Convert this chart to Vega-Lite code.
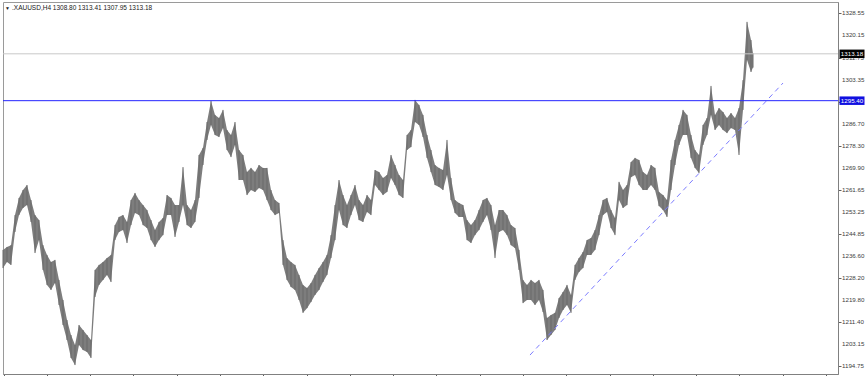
{
  "$schema": "https://vega.github.io/schema/vega-lite/v6.json",
  "width": 835,
  "height": 372,
  "padding": {"left": 2, "top": 2, "right": 0, "bottom": 0},
  "autosize": {"type": "pad"},
  "background": "white",
  "config": {"view": {"stroke": "#9a9a9a", "strokeWidth": 1}, "font": "Liberation Sans"},
  "datasets": {
    "bars": [
      {"bar":0,"high":1238.8,"low":1231.9},{"bar":4,"high":1239.9,"low":1234.2},{"bar":8,"high":1240.6,"low":1233.1},{"bar":12,"high":1252.0,"low":1245.6},
      {"bar":16,"high":1258.5,"low":1252.0},{"bar":20,"high":1261.5,"low":1254.7},{"bar":24,"high":1263.4,"low":1255.8},{"bar":28,"high":1257.7,"low":1249.4},
      {"bar":32,"high":1252.0,"low":1237.6},{"bar":36,"high":1250.1,"low":1242.5},{"bar":40,"high":1240.6,"low":1231.2},{"bar":44,"high":1236.9,"low":1225.5},
      {"bar":48,"high":1234.2,"low":1223.6},{"bar":52,"high":1235.0,"low":1226.2},{"bar":56,"high":1227.4,"low":1217.9},{"bar":60,"high":1219.8,"low":1210.3},
      {"bar":64,"high":1212.2,"low":1204.6},{"bar":68,"high":1206.5,"low":1197.8},{"bar":72,"high":1202.7,"low":1195.1},{"bar":76,"high":1210.3,"low":1202.7},
      {"bar":80,"high":1208.4,"low":1200.8},{"bar":84,"high":1206.5,"low":1200.1},{"bar":88,"high":1204.6,"low":1197.8},{"bar":92,"high":1231.2,"low":1220.9},
      {"bar":96,"high":1233.1,"low":1225.5},{"bar":100,"high":1234.2,"low":1227.4},{"bar":104,"high":1235.7,"low":1229.3},{"bar":108,"high":1236.9,"low":1226.6},
      {"bar":112,"high":1248.2,"low":1242.5},{"bar":116,"high":1251.3,"low":1245.6},{"bar":120,"high":1252.0,"low":1246.3},{"bar":124,"high":1249.4,"low":1241.4},
      {"bar":128,"high":1257.7,"low":1248.2},{"bar":132,"high":1260.4,"low":1252.8},{"bar":136,"high":1257.7,"low":1252.0},{"bar":140,"high":1255.8,"low":1248.2},
      {"bar":144,"high":1253.9,"low":1247.1},{"bar":148,"high":1250.1,"low":1242.5},{"bar":152,"high":1246.3,"low":1239.9},{"bar":156,"high":1249.4,"low":1242.5},
      {"bar":160,"high":1250.9,"low":1244.4},{"bar":164,"high":1259.6,"low":1252.0},{"bar":168,"high":1258.5,"low":1252.0},{"bar":172,"high":1255.8,"low":1243.7},
      {"bar":176,"high":1255.8,"low":1249.4},{"bar":180,"high":1270.2,"low":1255.8},{"bar":184,"high":1255.8,"low":1248.2},{"bar":188,"high":1253.9,"low":1247.1},
      {"bar":192,"high":1257.7,"low":1249.4},{"bar":196,"high":1274.8,"low":1258.5},{"bar":200,"high":1277.5,"low":1271.0},{"bar":204,"high":1287.3,"low":1280.5},
      {"bar":208,"high":1295.3,"low":1286.2},{"bar":212,"high":1290.0,"low":1282.4},{"bar":216,"high":1288.8,"low":1281.6},{"bar":220,"high":1291.9,"low":1285.0},
      {"bar":224,"high":1284.3,"low":1276.7},{"bar":228,"high":1282.4,"low":1274.0},{"bar":232,"high":1287.3,"low":1278.6},{"bar":236,"high":1276.7,"low":1265.3},
      {"bar":240,"high":1274.8,"low":1265.3},{"bar":244,"high":1268.3,"low":1259.6},{"bar":248,"high":1269.9,"low":1261.5},{"bar":252,"high":1268.3,"low":1260.8},
      {"bar":256,"high":1271.0,"low":1262.3},{"bar":260,"high":1269.9,"low":1261.5},{"bar":264,"high":1269.9,"low":1257.7},{"bar":268,"high":1261.5,"low":1253.9},
      {"bar":272,"high":1257.7,"low":1252.0},{"bar":276,"high":1256.6,"low":1252.8},{"bar":280,"high":1242.5,"low":1233.1},{"bar":284,"high":1235.7,"low":1227.4},
      {"bar":288,"high":1234.2,"low":1224.7},{"bar":292,"high":1233.1,"low":1223.6},{"bar":296,"high":1229.3,"low":1219.8},{"bar":300,"high":1225.5,"low":1214.9},
      {"bar":304,"high":1224.3,"low":1216.7},{"bar":308,"high":1226.2,"low":1219.0},{"bar":312,"high":1229.3,"low":1221.7},{"bar":316,"high":1231.9,"low":1223.6},
      {"bar":320,"high":1234.2,"low":1226.6},{"bar":324,"high":1236.9,"low":1229.3},{"bar":328,"high":1244.4,"low":1235.7},{"bar":332,"high":1255.8,"low":1242.5},
      {"bar":336,"high":1265.3,"low":1253.9},{"bar":340,"high":1259.6,"low":1248.2},{"bar":344,"high":1255.8,"low":1247.1},{"bar":348,"high":1259.6,"low":1252.0},
      {"bar":352,"high":1263.4,"low":1255.8},{"bar":356,"high":1257.7,"low":1250.1},{"bar":360,"high":1255.8,"low":1249.4},{"bar":364,"high":1259.6,"low":1253.2},
      {"bar":368,"high":1257.7,"low":1252.0},{"bar":372,"high":1269.1,"low":1263.4},{"bar":376,"high":1268.3,"low":1261.5},{"bar":380,"high":1266.1,"low":1259.6},
      {"bar":384,"high":1267.2,"low":1260.8},{"bar":388,"high":1274.8,"low":1266.1},{"bar":392,"high":1271.0,"low":1263.4},{"bar":396,"high":1267.2,"low":1259.6},
      {"bar":400,"high":1265.3,"low":1258.5},{"bar":404,"high":1282.4,"low":1276.7},{"bar":408,"high":1284.3,"low":1277.8},{"bar":412,"high":1295.7,"low":1287.3},
      {"bar":416,"high":1293.8,"low":1286.2},{"bar":420,"high":1290.0,"low":1281.6},{"bar":424,"high":1282.4,"low":1273.7},{"bar":428,"high":1276.7,"low":1268.3},
      {"bar":432,"high":1271.0,"low":1263.4},{"bar":436,"high":1269.9,"low":1262.7},{"bar":440,"high":1269.1,"low":1261.5},{"bar":444,"high":1280.5,"low":1267.2},
      {"bar":448,"high":1266.1,"low":1257.7},{"bar":452,"high":1257.7,"low":1252.8},{"bar":456,"high":1256.6,"low":1251.3},{"bar":460,"high":1255.8,"low":1251.3},
      {"bar":464,"high":1250.1,"low":1242.5},{"bar":468,"high":1248.2,"low":1241.4},{"bar":472,"high":1250.1,"low":1244.4},{"bar":476,"high":1253.9,"low":1246.3},
      {"bar":480,"high":1257.7,"low":1249.4},{"bar":484,"high":1258.5,"low":1252.0},{"bar":488,"high":1255.8,"low":1246.3},{"bar":492,"high":1248.2,"low":1235.7},
      {"bar":496,"high":1253.9,"low":1245.6},{"bar":500,"high":1253.9,"low":1246.3},{"bar":504,"high":1252.0,"low":1244.4},{"bar":508,"high":1248.2,"low":1240.6},
      {"bar":512,"high":1247.1,"low":1239.5},{"bar":516,"high":1238.8,"low":1231.2},{"bar":520,"high":1227.4,"low":1218.6},{"bar":524,"high":1225.5,"low":1219.8},
      {"bar":528,"high":1227.4,"low":1219.8},{"bar":532,"high":1226.2,"low":1217.9},{"bar":536,"high":1227.4,"low":1219.8},{"bar":540,"high":1223.6,"low":1215.2},
      {"bar":544,"high":1213.0,"low":1204.6},{"bar":548,"high":1214.1,"low":1206.5},{"bar":552,"high":1214.9,"low":1208.4},{"bar":556,"high":1220.5,"low":1213.0},
      {"bar":560,"high":1222.8,"low":1216.0},{"bar":564,"high":1225.5,"low":1217.9},{"bar":568,"high":1221.7,"low":1214.9},{"bar":572,"high":1233.1,"low":1227.4},
      {"bar":576,"high":1235.7,"low":1230.4},{"bar":580,"high":1238.0,"low":1231.9},{"bar":584,"high":1242.5,"low":1236.9},{"bar":588,"high":1243.3,"low":1236.9},
      {"bar":592,"high":1246.3,"low":1238.8},{"bar":596,"high":1252.0,"low":1244.4},{"bar":600,"high":1257.7,"low":1252.0},{"bar":604,"high":1258.5,"low":1253.2},
      {"bar":608,"high":1253.9,"low":1247.1},{"bar":612,"high":1250.9,"low":1244.4},{"bar":616,"high":1264.6,"low":1257.7},{"bar":620,"high":1261.5,"low":1254.7},
      {"bar":624,"high":1263.4,"low":1255.8},{"bar":628,"high":1272.1,"low":1266.4},{"bar":632,"high":1273.7,"low":1267.2},{"bar":636,"high":1272.9,"low":1263.4},
      {"bar":640,"high":1268.3,"low":1261.5},{"bar":644,"high":1267.2,"low":1261.5},{"bar":648,"high":1271.0,"low":1263.4},{"bar":652,"high":1269.9,"low":1261.5},
      {"bar":656,"high":1260.8,"low":1255.4},{"bar":660,"high":1259.6,"low":1253.9},{"bar":664,"high":1257.7,"low":1251.3},{"bar":668,"high":1272.9,"low":1261.5},
      {"bar":672,"high":1280.5,"low":1271.0},{"bar":676,"high":1286.2,"low":1278.6},{"bar":680,"high":1291.9,"low":1282.4},{"bar":684,"high":1290.0,"low":1282.4},
      {"bar":688,"high":1282.4,"low":1273.7},{"bar":692,"high":1276.7,"low":1269.9},{"bar":696,"high":1274.8,"low":1268.0},{"bar":700,"high":1286.2,"low":1278.6},
      {"bar":704,"high":1288.8,"low":1282.4},{"bar":708,"high":1301.0,"low":1290.0},{"bar":712,"high":1290.0,"low":1284.3},{"bar":716,"high":1292.6,"low":1286.2},
      {"bar":720,"high":1291.1,"low":1284.3},{"bar":724,"high":1288.8,"low":1283.1},{"bar":728,"high":1290.7,"low":1285.0},{"bar":732,"high":1288.8,"low":1284.3},
      {"bar":736,"high":1292.6,"low":1274.8},{"bar":740,"high":1303.2,"low":1291.9},{"bar":744,"high":1325.3,"low":1310.8},{"bar":748,"high":1318.4,"low":1306.3},
      {"bar":750,"high":1313.41,"low":1307.95}
    ],
    "trend": [{"bar":527,"price":1198.9,"bar2":780,"price2":1302.1}],
    "bid": [{"price":1313.18,"label":"1313.18"}],
    "level": [{"price":1295.40,"label":"1295.40"}],
    "yticks": [{"v":1328.55},{"v":1320.15},{"v":1311.75},{"v":1303.35},{"v":1286.70},{"v":1278.30},{"v":1269.90},{"v":1261.65},{"v":1253.25},{"v":1244.85},{"v":1236.60},{"v":1228.20},{"v":1219.80},{"v":1211.40},{"v":1203.15},{"v":1194.75}],
    "header": [{"text":".XAUUSD,H4  1308.80 1313.41 1307.95 1313.18"}]
  },
  "layer": [
    {
      "data": {"name": "bars"},
      "mark": {"type": "area", "color": "#7d7d7d", "opacity": 1, "interpolate": "linear"},
      "encoding": {
        "x": {"field": "bar", "type": "quantitative",
          "scale": {"domain": [0, 835], "nice": false, "zero": false},
          "axis": {"orient": "bottom", "values": [1,44,87,130,174,217,260,304,347,390,433,477,520,563,607,650,693,736,780,823],
            "labels": false, "title": null, "grid": false, "tickSize": 3, "tickColor": "#606060", "domainColor": "#808080"}},
        "y": {"field": "low", "type": "quantitative",
          "scale": {"domain": [1191.71, 1332.84], "nice": false, "zero": false},
          "axis": {"orient": "right", "values": [1328.55,1320.15,1311.75,1303.35,1294.95,1286.70,1278.30,1269.90,1261.65,1253.25,1244.85,1236.60,1228.20,1219.80,1211.40,1203.15,1194.75],
            "labels": false, "title": null, "grid": false, "tickSize": 3, "tickColor": "#606060", "domainColor": "#808080"}},
        "y2": {"field": "high"}
      }
    },
    {
      "data": {"name": "bars"},
      "mark": {"type": "rule", "color": "#6a6a6a", "strokeWidth": 1},
      "encoding": {
        "x": {"field": "bar", "type": "quantitative"},
        "y": {"field": "low", "type": "quantitative"},
        "y2": {"field": "high"}
      }
    },
    {
      "data": {"name": "yticks"},
      "mark": {"type": "text", "color": "#404040", "fontSize": 6.2, "font": "Liberation Sans", "align": "left", "baseline": "middle", "xOffset": 4},
      "encoding": {
        "x": {"datum": 835, "type": "quantitative"},
        "y": {"field": "v", "type": "quantitative"},
        "text": {"field": "v", "type": "quantitative", "format": ".2f"}
      }
    },
    {
      "data": {"name": "bid"},
      "mark": {"type": "rule", "color": "#c8c8c8", "strokeWidth": 1},
      "encoding": {"y": {"field": "price", "type": "quantitative"}}
    },
    {
      "data": {"name": "level"},
      "mark": {"type": "rule", "color": "#2424ff", "strokeWidth": 1},
      "encoding": {"y": {"field": "price", "type": "quantitative"}}
    },
    {
      "data": {"name": "trend"},
      "mark": {"type": "rule", "color": "#7c7cff", "strokeWidth": 1, "strokeDash": [5, 4]},
      "encoding": {
        "x": {"field": "bar", "type": "quantitative"},
        "y": {"field": "price", "type": "quantitative"},
        "x2": {"field": "bar2"},
        "y2": {"field": "price2"}
      }
    },
    {
      "data": {"name": "bid"},
      "mark": {"type": "point", "shape": "M-1,-0.34H1V0.34H-1Z", "size": 625, "filled": true, "opacity": 1, "color": "#000000", "xOffset": 14},
      "encoding": {
        "x": {"datum": 835, "type": "quantitative"},
        "y": {"field": "price", "type": "quantitative"}
      }
    },
    {
      "data": {"name": "level"},
      "mark": {"type": "point", "shape": "M-1,-0.34H1V0.34H-1Z", "size": 625, "filled": true, "opacity": 1, "color": "#1010e0", "xOffset": 14},
      "encoding": {
        "x": {"datum": 835, "type": "quantitative"},
        "y": {"field": "price", "type": "quantitative"}
      }
    },
    {
      "data": {"name": "bid"},
      "mark": {"type": "text", "color": "white", "fontSize": 6.2, "font": "Liberation Sans", "align": "center", "baseline": "middle", "xOffset": 14},
      "encoding": {
        "x": {"datum": 835, "type": "quantitative"},
        "y": {"field": "price", "type": "quantitative"},
        "text": {"field": "label"}
      }
    },
    {
      "data": {"name": "level"},
      "mark": {"type": "text", "color": "white", "fontSize": 6.2, "font": "Liberation Sans", "align": "center", "baseline": "middle", "xOffset": 14},
      "encoding": {
        "x": {"datum": 835, "type": "quantitative"},
        "y": {"field": "price", "type": "quantitative"},
        "text": {"field": "label"}
      }
    },
    {
      "data": {"name": "header"},
      "mark": {"type": "text", "color": "#202020", "fontSize": 6.5, "font": "Liberation Sans", "align": "left", "baseline": "top", "dx": 9, "dy": 3},
      "encoding": {
        "x": {"datum": 0, "type": "quantitative"},
        "y": {"datum": 1332.84, "type": "quantitative"},
        "text": {"field": "text"}
      }
    },
    {
      "data": {"name": "header"},
      "mark": {"type": "text", "color": "#202020", "fontSize": 5, "align": "left", "baseline": "top", "dx": 2, "dy": 4},
      "encoding": {
        "x": {"datum": 0, "type": "quantitative"},
        "y": {"datum": 1332.84, "type": "quantitative"},
        "text": {"value": "▼"}
      }
    }
  ]
}
